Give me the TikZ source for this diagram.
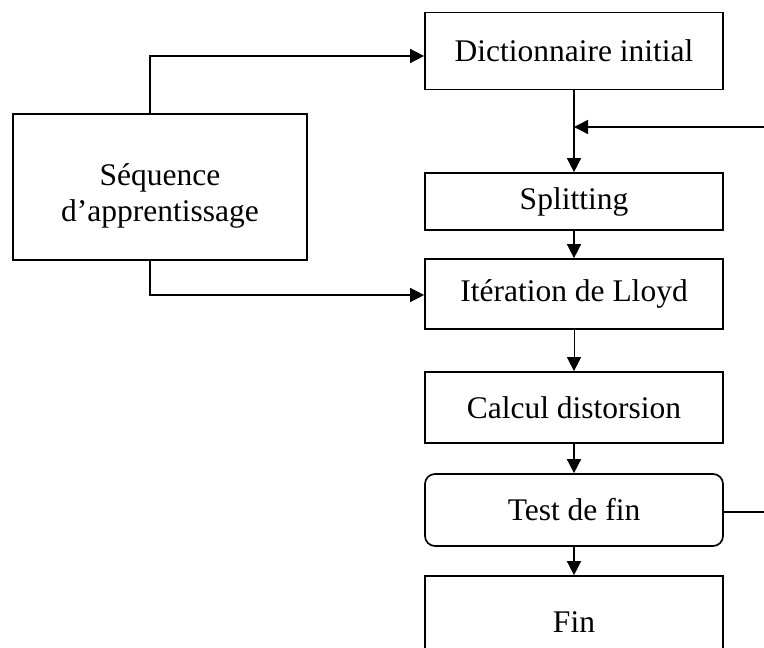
\documentclass[tikz,border=0pt]{standalone}
\usepackage{fontspec}
\setmainfont{Liberation Serif}
\usetikzlibrary{arrows.meta}
\tikzset{
  box/.style={draw=black, line width=1.7pt, fill=white, minimum width=298pt, inner sep=0pt, align=center,
              font=\fontsize{31.5}{36}\selectfont},
  lbl/.style={inner sep=0pt, align=center, font=\fontsize{31.5}{36}\selectfont},
  conn/.style={line width=1.5pt, -{Triangle[length=14pt,width=14pt]}},
  plain/.style={line width=1.5pt},
}
\begin{document}
\begin{tikzpicture}[x=1pt,y=-1pt]
\useasboundingbox (0,0) rectangle (764,648);
\clip (0,0) rectangle (764,648);
\fill[white] (0,0) rectangle (764,648);
% nodes
\node[box, minimum height=77pt] (dict) at (574,51) {Dictionnaire initial};
\node[box, minimum height=57pt] (split) at (574,201.5) {Splitting};
\node[box, minimum height=70pt] (iter) at (574,294) {Itération de Lloyd};
\node[box, minimum height=71pt] (calc) at (574,407.5) {Calcul distorsion};
\node[box, minimum height=72pt, rounded corners=10pt] (test) at (574,510) {Test de fin};
\node[box, minimum height=92pt] (fin) at (574,622) {Fin};
\node[box, minimum width=294pt, minimum height=146pt] (seq) at (160,187) {};
\node[lbl] (seqt) at (160,196) {Séquence\\d’apprentissage};
% coordinates
\coordinate (sq1) at (150,114);
\coordinate (sq2) at (150,260);
\coordinate (loopin) at (764,127);
\coordinate (loopout) at (764,512);
% connectors
\draw[conn] (sq1) |- (dict.west |- 0,56);
\draw[conn] (sq2) |- (iter.west |- 0,295);
\draw[conn] (dict.south) -- (split.north);
\draw[conn] (loopin) -- (dict.south |- loopin);
\draw[conn] (split.south) -- (iter.north);
\draw[conn, line width=1pt] (iter.south) -- (calc.north);
\draw[conn] (calc.south) -- (test.north);
\draw[conn] (test.south) -- (fin.north);
\draw[plain] (test.east |- loopout) -- (loopout);
\end{tikzpicture}
\end{document}
